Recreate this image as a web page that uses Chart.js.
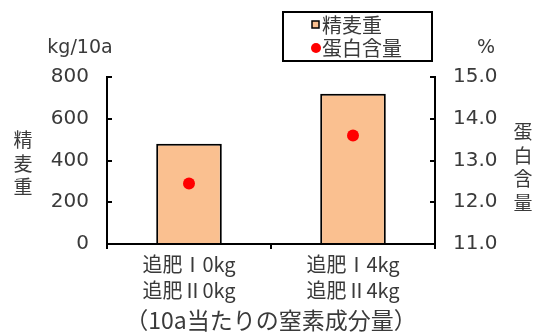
<!DOCTYPE html>
<html>
<head>
<meta charset="utf-8">
<script src="https://cdn.jsdelivr.net/npm/chart.js@4/dist/chart.umd.min.js"></script>
<style>
  html, body { margin: 0; padding: 0; background: #fff; }
  #wrap { width: 545px; height: 336px; position: relative; }
</style>
</head>
<body>
<div id="wrap"><canvas id="chart"></canvas></div>
<script>
// data
const categories = [['追肥Ⅰ0kg', '追肥Ⅱ0kg'], ['追肥Ⅰ4kg', '追肥Ⅱ4kg']];
const yieldValues = [480, 720];      // 精麦重 kg/10a
const proteinValues = [12.45, 13.6]; // 蛋白含量 %
const leftTicks = [0, 200, 400, 600, 800];
const rightTicks = [11, 12, 13, 14, 15];

const jpFont = '"Noto Sans CJK JP", sans-serif';
const numFont = '"DejaVu Sans", "Noto Sans CJK JP", sans-serif';
const textColor = '#3a3a3a';

// extra labels + boxed legend
const decorations = {
    id: 'decorations',
    afterDraw(chart) {
        const ctx = chart.ctx;
        const ds = chart.data.datasets;
        ctx.save();
        ctx.fillStyle = textColor;
        ctx.textBaseline = 'middle';

        // unit labels above axes
        ctx.font = '19px ' + numFont;
        ctx.textAlign = 'center';
        ctx.fillText('kg/10a', 80, 48);
        ctx.fillText('%', 486, 48);

        // vertical axis titles
        ctx.font = '19px ' + jpFont;
        ['精', '麦', '重'].forEach((c, i) => ctx.fillText(c, 23, 140 + i * 23.5));
        ['蛋', '白', '含', '量'].forEach((c, i) => ctx.fillText(c, 523, 132 + i * 23.5));

        // legend box
        ctx.strokeStyle = '#000';
        ctx.lineWidth = 2;
        ctx.strokeRect(283, 12, 149, 49);

        ctx.textAlign = 'left';
        ctx.font = '20px ' + jpFont;
        // bar entry
        ctx.fillStyle = ds[1].backgroundColor;
        ctx.fillRect(312, 21, 7, 7);
        ctx.lineWidth = 1.5;
        ctx.strokeRect(312, 21, 7, 7);
        ctx.fillStyle = textColor;
        ctx.fillText(ds[1].label, 322, 25);
        // point entry
        ctx.fillStyle = ds[0].pointBackgroundColor;
        ctx.beginPath();
        ctx.arc(316, 48, 5, 0, Math.PI * 2);
        ctx.fill();
        ctx.fillStyle = textColor;
        ctx.fillText(ds[0].label, 322, 48);
        ctx.restore();
    }
};

new Chart(document.getElementById('chart'), {
    type: 'bar',
    data: {
        labels: categories,
        datasets: [
            {
                type: 'line',
                label: '蛋白含量',
                data: proteinValues,
                yAxisID: 'y1',
                showLine: false,
                pointRadius: 6,
                pointBackgroundColor: '#ff0000',
                pointBorderColor: '#ff0000',
                pointBorderWidth: 0,
                order: 0
            },
            {
                label: '精麦重',
                data: yieldValues,
                yAxisID: 'y',
                backgroundColor: '#fac090',
                borderColor: '#000',
                borderWidth: 2,
                borderSkipped: 'bottom',
                barPercentage: 0.4,
                categoryPercentage: 1,
                order: 1
            }
        ]
    },
    options: {
        responsive: true,
        maintainAspectRatio: false,
        animation: false,
        layout: { padding: { top: 77, bottom: 0, left: 0, right: 0 } },
        plugins: {
            legend: { display: false },
            tooltip: { enabled: false }
        },
        scales: {
            x: {
                offset: true,
                grid: { offset: true, drawOnChartArea: false, drawTicks: true, tickLength: 5, color: '#000', lineWidth: 2 },
                border: { color: '#000', width: 2 },
                ticks: { color: textColor, padding: 2, font: { family: jpFont, size: 20, lineHeight: 1.3 } },
                title: {
                    display: true,
                    text: '（10a当たりの窒素成分量）',
                    color: textColor,
                    font: { family: jpFont, size: 23, lineHeight: 1.2 },
                    padding: { top: 0, bottom: 2 }
                },
                afterFit(scale) { scale.height = 92; }
            },
            y: {
                position: 'left',
                min: 0,
                max: 800,
                afterBuildTicks(scale) { scale.ticks = leftTicks.map(v => ({ value: v })); },
                grid: { drawOnChartArea: false, drawTicks: true, tickLength: -5, color: '#000', lineWidth: 2 },
                border: { color: '#000', width: 2 },
                ticks: { color: textColor, padding: 23, font: { family: numFont, size: 20 } },
                afterFit(scale) { scale.width = 107; }
            },
            y1: {
                position: 'right',
                min: 11,
                max: 15,
                afterBuildTicks(scale) { scale.ticks = rightTicks.map(v => ({ value: v })); },
                grid: { drawOnChartArea: false, drawTicks: true, tickLength: -5, color: '#000', lineWidth: 2 },
                border: { color: '#000', width: 2 },
                ticks: { color: textColor, padding: 23, font: { family: numFont, size: 20 }, callback: v => v.toFixed(1) },
                afterFit(scale) { scale.width = 110; }
            }
        }
    },
    plugins: [decorations]
});
</script>
</body>
</html>
